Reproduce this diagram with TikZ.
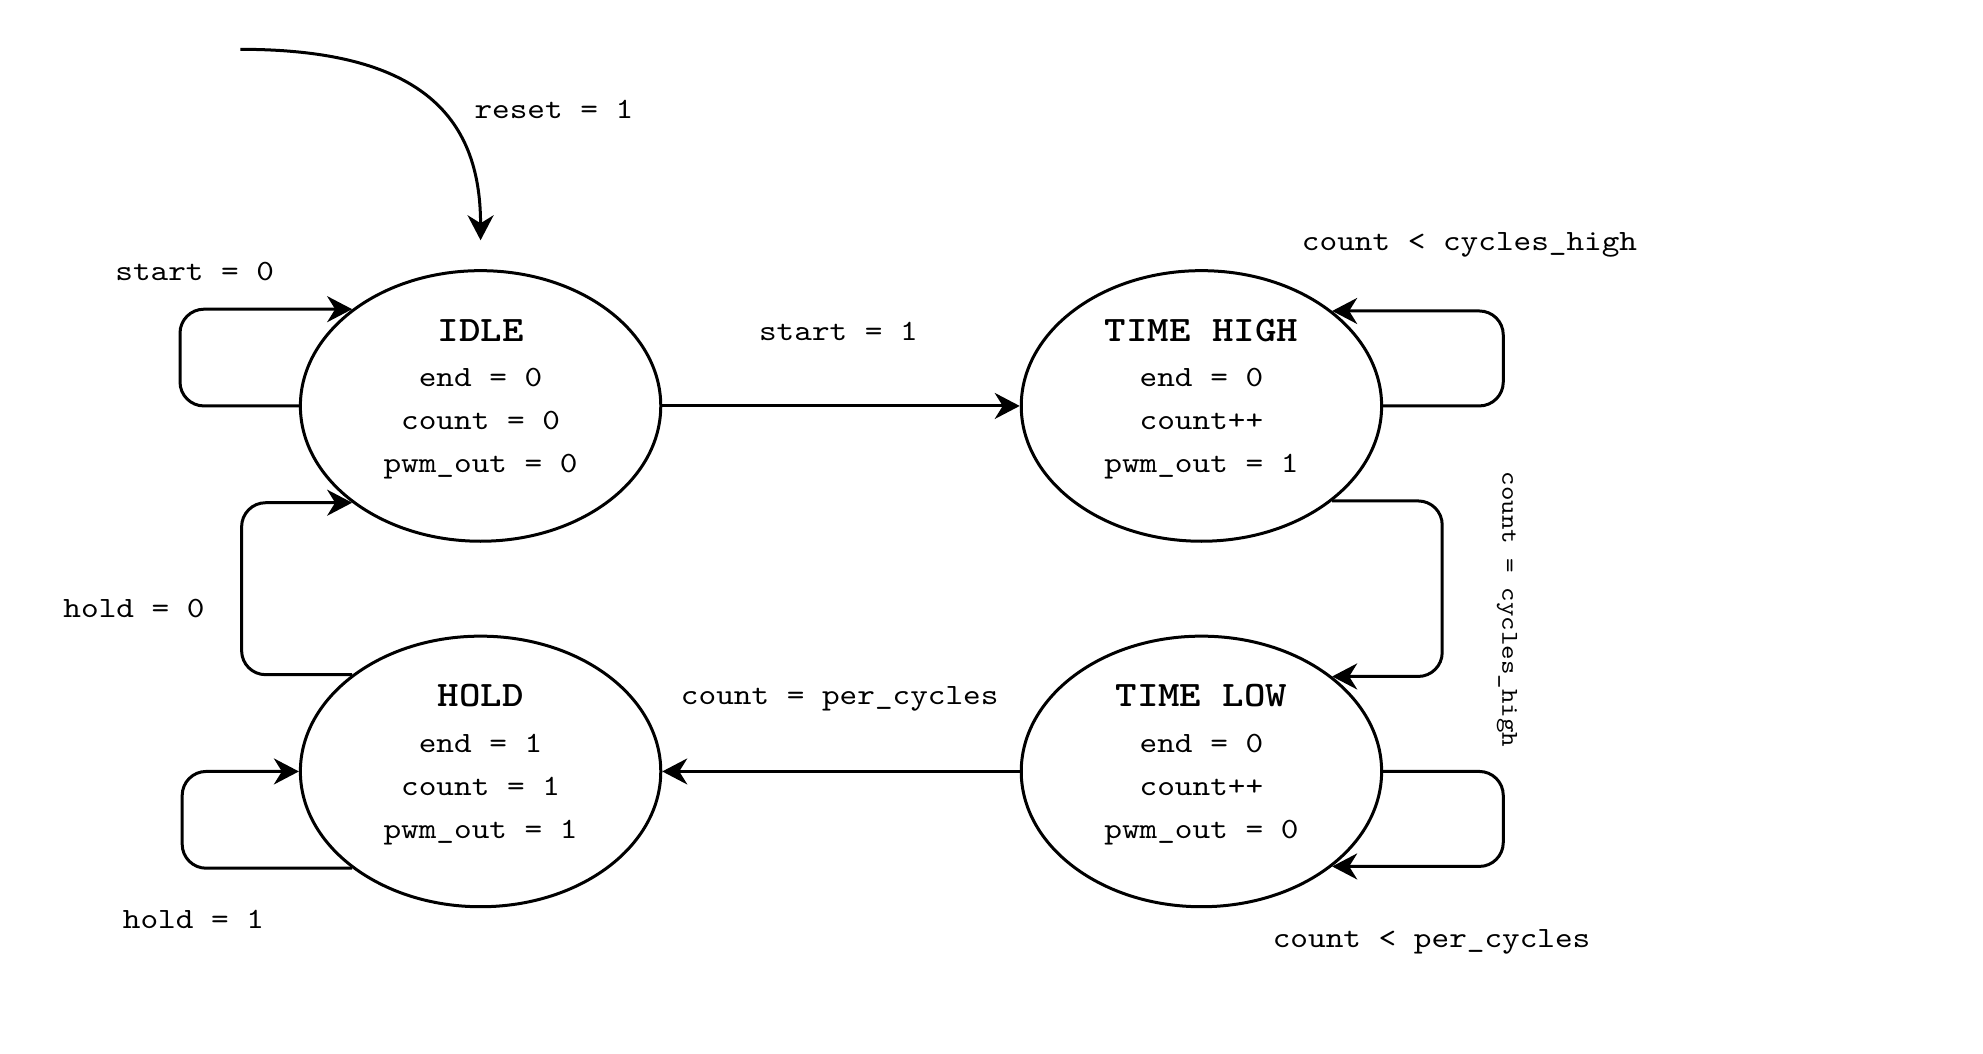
\documentclass[tikz,border=0pt]{standalone}
\usepackage{fontspec}
\newfontfamily\cour{lmmono10-regular.otf}[BoldFont=lmmonolt10-bold.otf,FakeStretch=1.1429]
\usetikzlibrary{shapes.geometric,arrows.meta}
\begin{document}
\begin{tikzpicture}[x=0.63235pt,y=-0.63235pt,
  state/.style={ellipse,draw,line width=1.5pt,minimum width=180.2pt,minimum height=135.3pt,inner sep=0pt},
  ttl/.style={anchor=base,inner sep=0pt,font=\fontsize{17.9}{20}\selectfont\cour\bfseries},
  txt/.style={anchor=base,inner sep=0pt,font=\fontsize{14.7}{17}\selectfont\cour},
  sml/.style={anchor=base,inner sep=0pt,font=\fontsize{12.1}{14}\selectfont\cour},
  conn/.style={line width=1.5pt,rounded corners=12pt,-{Stealth[length=12.5pt,width=13pt,inset=4pt]}}]
\useasboundingbox (0,0) rectangle (1568,833);

% states
\node[state] (idle) at (380,321) {};
\node[state] (th) at (950,321) {};
\node[state] (hold) at (380,610) {};
\node[state] (tl) at (950,610) {};

% state texts
\node[ttl] (idleT) at (380,270) {IDLE};
\node[txt] (idle1) at (380,306) {end = 0};
\node[txt] (idle2) at (380,340) {count = 0};
\node[txt] (idle3) at (380,374) {pwm\_out = 0};

\node[ttl] (thT) at (950,270) {TIME HIGH};
\node[txt] (th1) at (950,306) {end = 0};
\node[txt] (th2) at (950,340) {count++};
\node[txt] (th3) at (950,374) {pwm\_out = 1};

\node[ttl] (holdT) at (380,559) {HOLD};
\node[txt] (hold1) at (380,595) {end = 1};
\node[txt] (hold2) at (380,629) {count = 1};
\node[txt] (hold3) at (380,663) {pwm\_out = 1};

\node[ttl] (tlT) at (950,559) {TIME LOW};
\node[txt] (tl1) at (950,595) {end = 0};
\node[txt] (tl2) at (950,629) {count++};
\node[txt] (tl3) at (950,663) {pwm\_out = 0};

% reset arrow
\coordinate (rs) at (190,39);
\coordinate (re) at (380,190);
\draw[conn] (rs) .. controls (330,39) and (380,90) .. (re);

% connectors
\draw[conn] (idle.west) -- ++(-94,0) |- (idle.143.6);
\draw[conn] (idle.east) -- (th.west);
\draw[conn] (th.east) -- ++(95,0) |- (th.36.4);
\draw[conn] (th.-36.4) -- ++(87,0) |- (tl.36.4);
\draw[conn] (tl.east) -- ++(95,0) |- (tl.-36.4);
\draw[conn] (tl.west) -- (hold.east);
\draw[conn] (hold.-143.6) -- ++(-134.4,0) |- (hold.west);
\draw[conn] (hold.143.6) -- ++(-87.4,0) |- (idle.-143.6);

% labels
\node[txt] (lreset) at (438,94) {reset = 1};
\node[txt] (lstart0) at (154,222) {start = 0};
\node[txt] (lstart1) at (663,269) {start = 1};
\node[txt] (lchigh) at (1162,198) {count < cycles\_high};
\node[sml,rotate=-90] (lceq) at (1188,482) {count = cycles\_high};
\node[txt] (lpeq) at (664,557) {count = per\_cycles};
\node[txt] (lplt) at (1132,749) {count < per\_cycles};
\node[txt] (lhold1) at (153,734) {hold = 1};
\node[txt] (lhold0) at (106,488) {hold = 0};
\end{tikzpicture}
\end{document}
